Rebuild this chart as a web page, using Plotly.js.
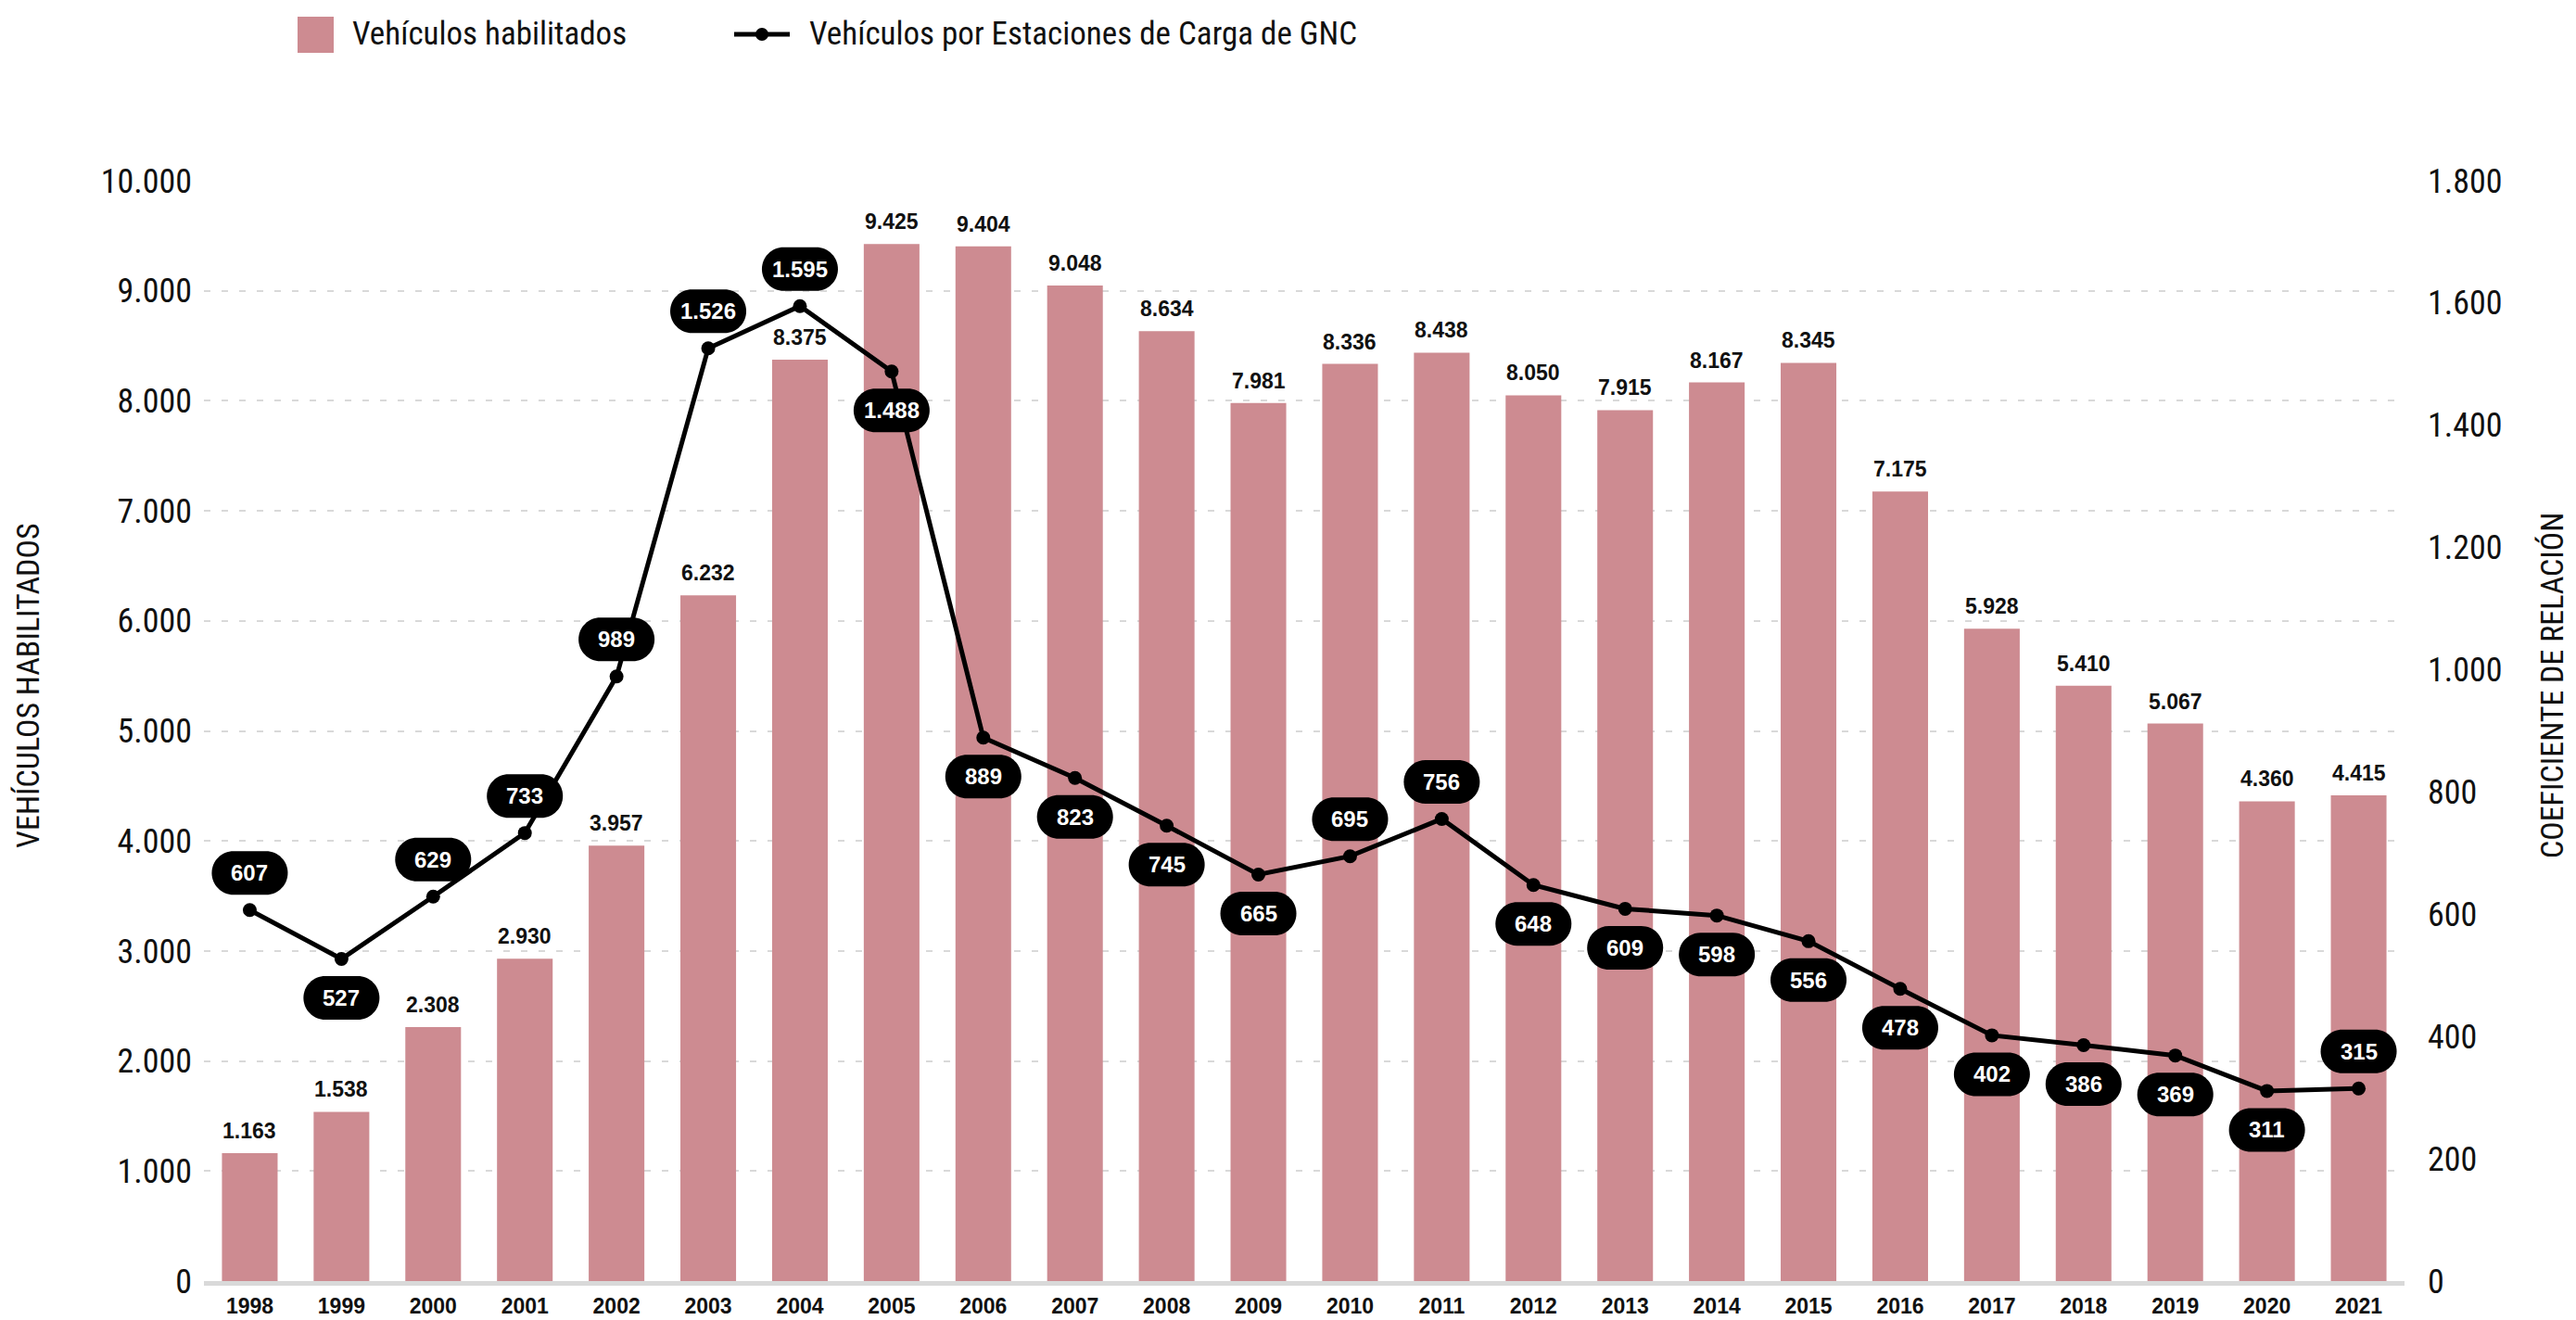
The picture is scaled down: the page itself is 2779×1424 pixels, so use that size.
<!DOCTYPE html>
<html>
<head>
<meta charset="utf-8">
<script src="https://cdn.plot.ly/plotly-3.0.1.min.js"></script>
<style>html,body{margin:0;padding:0;background:#fff;}#chart{width:2779px;height:1424px;}</style>
</head>
<body>
<div id="chart"></div>
<script>
// ---- data ----
const years = ["1998","1999","2000","2001","2002","2003","2004","2005","2006","2007","2008","2009","2010","2011","2012","2013","2014","2015","2016","2017","2018","2019","2020","2021"];
const vehiculosHabilitados = [1163,1538,2308,2930,3957,6232,8375,9425,9404,9048,8634,7981,8336,8438,8050,7915,8167,8345,7175,5928,5410,5067,4360,4415];
const vehiculosPorEstacion = [607,527,629,733,989,1526,1595,1488,889,823,745,665,695,756,648,609,598,556,478,402,386,369,311,315];
// label placement of the line's pills: 1 = above the point, -1 = below
const pillSide = [1,-1,1,1,1,1,1,-1,-1,-1,-1,-1,1,1,-1,-1,-1,-1,-1,-1,-1,-1,-1,1];
const seriesNames = ["Vehículos habilitados","Vehículos por Estaciones de Carga de GNC"];
const axisTitles = ["VEHÍCULOS HABILITADOS","COEFICIENTE DE RELACIÓN"];

const fmt = n => String(n).replace(/\B(?=(\d{3})+(?!\d))/g, '.');
const BAR = '#cd8b91';
const COND = '"Roboto Condensed", "Liberation Sans Narrow", Roboto, sans-serif';
const ARIAL = 'Liberation Sans, Arial, sans-serif';

const traces = [
  {type:'bar', x:years, y:vehiculosHabilitados, name:seriesNames[0], marker:{color:BAR}, hoverinfo:'skip'},
  {type:'scatter', mode:'lines+markers', x:years, y:vehiculosPorEstacion, yaxis:'y2', name:seriesNames[1],
   line:{color:'#000', width:5}, marker:{color:'#000', size:15}, hoverinfo:'skip'}
];

const annotations = [];
const shapes = [];
// bar value labels (x given as category index)
years.forEach((yr,i)=>{
  annotations.push({x:i, y:vehiculosHabilitados[i], xref:'x', yref:'y', text:'<b>'+fmt(vehiculosHabilitados[i])+'</b>',
    showarrow:false, yanchor:'bottom', yshift:9, font:{family:ARIAL, size:23, color:'#111'}});
});
// pill labels for the line
const W=82, H=47, R=23.5, A=W/2-R, K=0.5523*R;
years.forEach((yr,i)=>{
  const cy = pillSide[i] > 0 ? 40 : -42;
  const p = `M ${-A},${cy+R} L ${A},${cy+R} C ${A+K},${cy+R} ${A+R},${cy+K} ${A+R},${cy} C ${A+R},${cy-K} ${A+K},${cy-R} ${A},${cy-R} L ${-A},${cy-R} C ${-A-K},${cy-R} ${-A-R},${cy-K} ${-A-R},${cy} C ${-A-R},${cy+K} ${-A-K},${cy+R} ${-A},${cy+R} Z`;
  shapes.push({type:'path', xref:'x', yref:'y2', xsizemode:'pixel', ysizemode:'pixel',
    xanchor:i, yanchor:vehiculosPorEstacion[i], path:p, fillcolor:'#000', line:{width:0}, layer:'above'});
  annotations.push({x:i, y:vehiculosPorEstacion[i], xref:'x', yref:'y2', text:'<b>'+fmt(vehiculosPorEstacion[i])+'</b>',
    showarrow:false, yanchor:'middle', xanchor:'center', yshift:cy, font:{family:ARIAL, size:24, color:'#fff'}});
});

// custom legend (paper coords; plot area 220..2594 x, 195..1382 y)
const PX = px => (px-220)/2374, PY = py => (1382-py)/1187;
shapes.push({type:'rect', xref:'paper', yref:'paper', x0:PX(321), x1:PX(360), y0:PY(57), y1:PY(18), fillcolor:BAR, line:{width:0}});
shapes.push({type:'line', xref:'paper', yref:'paper', x0:PX(792), x1:PX(852), y0:PY(37), y1:PY(37), line:{color:'#000', width:5}});
shapes.push({type:'circle', xref:'paper', yref:'paper', x0:PX(815), x1:PX(829), y0:PY(44), y1:PY(30), fillcolor:'#000', line:{width:0}});
annotations.push({xref:'paper', yref:'paper', x:PX(378), y:PY(37), xanchor:'left', yanchor:'middle', showarrow:false,
  text:seriesNames[0], font:{family:COND, size:35, color:'#111'}});
annotations.push({xref:'paper', yref:'paper', x:PX(871), y:PY(37), xanchor:'left', yanchor:'middle', showarrow:false,
  text:seriesNames[1], font:{family:COND, size:35, color:'#111'}});
// axis titles
annotations.push({xref:'paper', yref:'paper', x:PX(30), y:PY(740), xanchor:'center', yanchor:'middle', showarrow:false, textangle:-90,
  text:axisTitles[0], font:{family:COND, size:34, color:'#111'}});
annotations.push({xref:'paper', yref:'paper', x:PX(2753), y:PY(740), xanchor:'center', yanchor:'middle', showarrow:false, textangle:-90,
  text:axisTitles[1], font:{family:COND, size:34, color:'#111'}});

const layout = {
  width:2779, height:1424,
  margin:{l:220, r:185, t:195, b:42},
  paper_bgcolor:'#fff', plot_bgcolor:'#fff',
  separators:',.',
  showlegend:false,
  bargap:0.393,
  xaxis:{type:'category', range:[-0.5, years.length-0.5], showgrid:false, zeroline:false,
    showline:true, linecolor:'#d9d9d9', linewidth:5, ticks:'',
    tickfont:{family:ARIAL, size:23, color:'#111', weight:'bold'}, ticklabelstandoff:2},
  yaxis:{range:[0,10000], dtick:1000, tickformat:',d', showgrid:true, gridcolor:'#d9d9d9', gridwidth:2, griddash:'7px,12px',
    zeroline:false, showline:false, ticks:'', ticklabelstandoff:12,
    tickfont:{family:COND, size:36, color:'#111'}},
  yaxis2:{range:[0,1800], dtick:200, tickformat:',d', overlaying:'y', side:'right', showgrid:false, zeroline:false,
    showline:false, ticks:'', ticklabelstandoff:24, tickfont:{family:COND, size:36, color:'#111'}},
  shapes:shapes,
  annotations:annotations
};
Plotly.newPlot('chart', traces, layout, {staticPlot:true, displayModeBar:false});
</script>
</body>
</html>
